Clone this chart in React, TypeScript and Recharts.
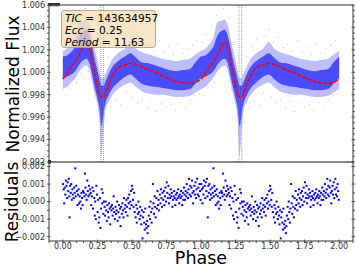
import { Area, ComposedChart, Line, ReferenceLine, Scatter, XAxis, YAxis } from "recharts";

const FONT = "DejaVu Sans, Verdana, sans-serif";
const FRAME = "#333";

// one phase cycle, repeated for 1..2 (the light curve is folded twice)
const phaseGrid = [0, 0.03, 0.06, 0.09, 0.12, 0.15, 0.17, 0.19, 0.21, 0.23, 0.25, 0.265, 0.28, 0.295, 0.31, 0.33, 0.355, 0.4, 0.45, 0.49, 0.53, 0.57, 0.62, 0.67, 0.72, 0.77, 0.82, 0.87, 0.92, 0.96, 1.0];
const modelFlux = [0.9994, 0.9999, 1.0005, 1.001, 1.0016, 1.0023, 1.0027, 1.0024, 1.0013, 1.0, 0.9987, 0.998, 0.9978, 0.9978, 0.9982, 0.9989, 0.9996, 1.0004, 1.00065, 1.0008, 1.0007, 1.0005, 1.0002, 1.0, 0.9997, 0.9994, 0.9992, 0.99905, 0.999, 0.9991, 0.9994];
const outerLow = [0.9985, 0.9987, 0.9991, 0.9995, 1.0001, 1.0005, 1.0006, 1.0003, 0.9993, 0.9981, 0.9971, 0.9958, 0.9925, 0.995, 0.9967, 0.9973, 0.9979, 0.9985, 0.9989, 0.9991, 0.9987, 0.9983, 0.9981, 0.998, 0.998, 0.9979, 0.9978, 0.9978, 0.9979, 0.9982, 0.9985];
const outerHigh = [1.0019, 1.0021, 1.0025, 1.0031, 1.0045, 1.0046, 1.0047, 1.0043, 1.0033, 1.0021, 1.0011, 1.0001, 0.9995, 0.9995, 0.9999, 1.0005, 1.0011, 1.0017, 1.0021, 1.0027, 1.0021, 1.0018, 1.0016, 1.0014, 1.0012, 1.0011, 1.001, 1.0011, 1.0012, 1.0016, 1.0019];
const coreLow = [0.9995, 0.9996, 0.9998, 1.0001, 1.0007, 1.0011, 1.0012, 1.0009, 0.9999, 0.9987, 0.9977, 0.9968, 0.9952, 0.9964, 0.9973, 0.9979, 0.9985, 0.9991, 0.9996, 0.9998, 0.9994, 0.999, 0.9988, 0.9987, 0.9986, 0.9985, 0.9984, 0.9984, 0.9985, 0.999, 0.9995];
const coreHigh = [1.0014, 1.0015, 1.0018, 1.0023, 1.0033, 1.0037, 1.0038, 1.0034, 1.0024, 1.0012, 1.0002, 0.9994, 0.9988, 0.9988, 0.9992, 0.9998, 1.0004, 1.001, 1.0014, 1.0017, 1.0013, 1.0009, 1.0008, 1.0006, 1.0004, 1.0002, 1.0001, 1.0002, 1.0003, 1.0009, 1.0014];

// faint grey raw points
const grayPts: [number, number][] = [
  [0.008, 1.0027], [0.021, 0.9979], [0.037, 1.0034], [0.052, 0.9986], [0.066, 1.0029], [0.083, 1.0043], [0.098, 0.9991],
  [0.116, 1.0051], [0.131, 0.9999], [0.148, 1.0041], [0.163, 1.0057], [0.184, 1.0001], [0.203, 1.0049], [0.221, 0.9985],
  [0.236, 1.0027], [0.249, 0.9963], [0.262, 1.0009], [0.272, 0.9946], [0.287, 0.9937], [0.302, 0.9998], [0.318, 0.9956],
  [0.329, 1.0014], [0.346, 0.9969], [0.367, 1.0023], [0.383, 0.9975], [0.402, 1.0029], [0.421, 0.9971], [0.437, 1.0024],
  [0.454, 0.9982], [0.471, 1.0033], [0.492, 1.0038], [0.507, 0.9978], [0.524, 1.0027], [0.541, 0.9973], [0.559, 1.0031],
  [0.574, 0.9976], [0.596, 1.0022], [0.613, 0.9968], [0.628, 1.0025], [0.644, 0.9974], [0.661, 1.0019], [0.679, 0.9965],
  [0.697, 1.0028], [0.712, 0.9972], [0.731, 1.0018], [0.748, 0.9969], [0.766, 1.0023], [0.783, 0.9971], [0.801, 1.0016],
  [0.817, 0.9966], [0.834, 1.0025], [0.852, 0.9973], [0.869, 1.0017], [0.886, 0.9969], [0.903, 1.0021], [0.921, 0.9975],
  [0.938, 1.0024], [0.954, 0.9979], [0.971, 1.0028], [0.988, 0.9981],
];

const residualPts: [number, number][] = [
  [0.002, 0.001], [0.006, 0.0007], [0.01, -0.0001], [0.014, 0.0008], [0.018, 0.0004], [0.022, 0.0012],
  [0.027, 0.0009], [0.031, 0.0002], [0.035, 0.0011], [0.039, 0.0006], [0.043, 0.0013], [0.047, 0.0003], [0.049, -0.0009],
  [0.053, 0.0009], [0.057, 0.0005], [0.061, 0.001], [0.065, 0.0001], [0.069, 0.0007], [0.072, 0.0004],
  [0.078, 0.0002], [0.082, 0.0008], [0.086, 0.0005], [0.09, 0.0019], [0.093, 0.0003], [0.097, 0.0009],
  [0.102, 0.0006], [0.106, -0.0002], [0.11, 0.0004], [0.114, 0.0007], [0.118, -0.0001], [0.122, 0.0003],
  [0.127, 0.0], [0.131, -0.0004], [0.135, 0.0005], [0.139, 0.0002], [0.143, -0.0002], [0.147, 0.0006],
  [0.152, 0.0005], [0.156, 0.0003], [0.16, 0.0016], [0.164, 0.0008], [0.168, 0.0004], [0.172, 0.0001],
  [0.177, 0.0012], [0.181, 0.0006], [0.185, 0.0003], [0.189, 0.0009], [0.193, 0.0004], [0.197, 0.0007],
  [0.202, 0.0005], [0.206, -0.0002], [0.21, 0.0003], [0.214, 0.0008], [0.218, -0.0004], [0.222, 0.0006],
  [0.227, 0.0002], [0.231, -0.0008], [0.235, 0.0], [0.239, -0.001], [0.243, 0.0009], [0.247, 0.0004],
  [0.252, -0.0006], [0.256, 0.0001], [0.26, -0.0012], [0.264, -0.0009], [0.268, 0.0002], [0.272, -0.0015],
  [0.277, -0.0004], [0.281, 0.0007], [0.285, -0.0001], [0.289, 0.0005], [0.293, -0.0007], [0.297, 0.0],
  [0.302, -0.0003], [0.306, -0.0008], [0.31, 0.0], [0.314, -0.0005], [0.318, -0.0011], [0.322, -0.0002],
  [0.327, -0.0006], [0.331, -0.0009], [0.335, -0.0001], [0.339, -0.0004], [0.343, -0.0013], [0.347, -0.0003],
  [0.352, -0.0005], [0.356, -0.0002], [0.36, -0.0008], [0.364, -0.0004], [0.368, 0.0003], [0.372, -0.0006],
  [0.377, -0.001], [0.381, -0.0003], [0.385, -0.0007], [0.389, -0.0005], [0.393, 0.0], [0.397, -0.0011],
  [0.402, -0.0006], [0.406, -0.0002], [0.41, -0.0009], [0.414, -0.0004], [0.418, -0.0014], [0.422, -0.0003],
  [0.427, -0.0007], [0.431, -0.0001], [0.435, -0.0005], [0.439, -0.0009], [0.443, 0.0002], [0.447, -0.0004],
  [0.452, -0.0002], [0.456, -0.0006], [0.46, 0.0001], [0.464, -0.0003], [0.468, -0.0008], [0.472, 0.0002],
  [0.477, -0.0001], [0.481, 0.0004], [0.485, -0.0004], [0.489, 0.0], [0.493, 0.0006], [0.497, -0.0002],
  [0.5, 0.0009], [0.504, 0.0007], [0.508, 0.0001], [0.512, -0.0003], [0.516, 0.0005], [0.52, -0.0006],
  [0.527, -0.0009], [0.531, -0.0002], [0.535, -0.0012], [0.539, -0.0004], [0.543, -0.0007], [0.547, 0.0],
  [0.552, -0.0006], [0.556, -0.001], [0.56, -0.0003], [0.564, -0.0008], [0.568, -0.0013], [0.572, -0.0005],
  [0.577, -0.0021], [0.581, -0.0009], [0.585, -0.0006], [0.589, -0.0012], [0.593, -0.0016], [0.597, -0.0004],
  [0.602, -0.0013], [0.606, -0.0015], [0.61, -0.0011], [0.614, -0.0018], [0.618, -0.0014], [0.622, -0.0008],
  [0.627, -0.0003], [0.631, -0.001], [0.635, 0.0], [0.639, -0.0006], [0.643, -0.0012], [0.647, -0.0004],
  [0.652, 0.001], [0.656, -0.0001], [0.66, -0.0007], [0.664, 0.0003], [0.668, -0.0003], [0.672, -0.0009],
  [0.677, 0.0002], [0.681, -0.0004], [0.685, 0.0006], [0.689, -0.0002], [0.693, 0.0001], [0.697, -0.0005],
  [0.702, 0.0004], [0.706, -0.0001], [0.71, 0.0007], [0.714, 0.0002], [0.718, -0.0003], [0.722, 0.0005],
  [0.727, 0.0001], [0.731, 0.0006], [0.735, -0.0002], [0.739, 0.0003], [0.743, 0.0008], [0.747, 0.0],
  [0.752, 0.0011], [0.756, 0.0005], [0.76, 0.0002], [0.764, 0.0009], [0.768, -0.0001], [0.772, 0.0004],
  [0.777, 0.0002], [0.781, 0.0007], [0.785, 0.0003], [0.789, 0.0005], [0.793, -0.0003], [0.797, 0.0001],
  [0.802, 0.0003], [0.806, 0.0006], [0.81, 0.0002], [0.814, -0.0002], [0.818, 0.0004], [0.822, 0.0001],
  [0.827, 0.0005], [0.831, 0.0002], [0.835, 0.0007], [0.839, 0.0003], [0.843, -0.0001], [0.847, 0.0004],
  [0.852, 0.0002], [0.856, 0.0006], [0.86, 0.0003], [0.864, -0.0002], [0.868, 0.0005], [0.872, 0.0001],
  [0.877, 0.0008], [0.881, 0.0004], [0.885, 0.0001], [0.889, 0.0006], [0.893, 0.0003], [0.897, 0.001],
  [0.902, 0.0005], [0.906, 0.0002], [0.91, 0.0007], [0.914, 0.0013], [0.918, 0.0004], [0.922, 0.0009],
  [0.927, 0.0003], [0.931, 0.0008], [0.935, 0.0012], [0.939, 0.0005], [0.943, -0.0001], [0.947, 0.0006],
  [0.952, 0.0009], [0.956, 0.0004], [0.96, 0.0011], [0.964, 0.0002], [0.968, 0.0007], [0.972, 0.0013],
  [0.977, 0.0004], [0.981, 0.0008], [0.985, 0.0003], [0.989, 0.001], [0.993, 0.0006], [0.997, 0.0001],
];

const fluxTicks = [0.992, 0.994, 0.996, 0.998, 1.0, 1.002, 1.004, 1.006];
const fluxLabels = ["0.992", "0.994", "0.996", "0.998", "1.000", "1.002", "1.004", "1.006"];
const residTicks = [-0.002, -0.001, 0, 0.001, 0.002];
const residLabels = ["\u22120.002", "\u22120.001", "0.000", "0.001", "0.002"];
const phaseTicks = [0, 0.25, 0.5, 0.75, 1.0, 1.25, 1.5, 1.75, 2.0];
const phaseLabels = ["0.00", "0.25", "0.50", "0.75", "1.00", "1.25", "1.50", "1.75", "2.00"];
const dipPhases = [0.275, 0.295, 1.275, 1.295];
const cycles = [0, 1];

const curveData = cycles.flatMap((c) =>
  phaseGrid
    .map((p, i) => ({
      phase: p + c,
      model: modelFlux[i],
      outer: [outerLow[i], outerHigh[i]],
      core: [coreLow[i], coreHigh[i]],
    }))
    .filter((_, i) => !(c === 1 && i === 0))
);
const grayData = cycles.flatMap((c) => grayPts.map(([p, f]) => ({ phase: p + c, flux: f })));
const residData = cycles.flatMap((c) => residualPts.map(([p, r]) => ({ phase: p + c, res: r })));

function minorTicks(lo: number, hi: number, step: number) {
  const out: number[] = [];
  const n = Math.round((hi - lo) / step);
  for (let i = 0; i <= n; i++) out.push(+(lo + i * step).toFixed(6));
  return out;
}

const phaseMinor = minorTicks(-0.1, 2.1, 0.05);
const fluxMinor = minorTicks(0.992, 1.006, 0.0005);
const residMinor = minorTicks(-0.002, 0.002, 0.0005);

function makeTick(side: string, majors: number[], labels?: string[]) {
  return (props: any) => {
    const { x, y, payload } = props;
    const idx = majors.findIndex((m) => Math.abs(m - payload.value) < 1e-7);
    const len = idx >= 0 ? 3.5 : 2;
    let line = null;
    let label = null;
    const txt = { fontFamily: FONT, fontSize: 8, fill: "#333" };
    if (side === "left") {
      line = <line x1={x} x2={x + len} y1={y} y2={y} stroke={FRAME} strokeWidth={0.8} />;
      if (labels && idx >= 0)
        label = (
          <text x={x - 2} y={y + 2.9} textAnchor="end" style={txt}>
            {labels[idx]}
          </text>
        );
    } else if (side === "right") {
      line = <line x1={x} x2={x - len} y1={y} y2={y} stroke={FRAME} strokeWidth={0.8} />;
    } else if (side === "top") {
      line = <line x1={x} x2={x} y1={y} y2={y + len} stroke={FRAME} strokeWidth={0.8} />;
    } else {
      line = <line x1={x} x2={x} y1={y} y2={y - len} stroke={FRAME} strokeWidth={0.8} />;
      if (labels && idx >= 0)
        label = (
          <text x={x} y={y + 6.4} textAnchor="middle" style={txt}>
            {labels[idx]}
          </text>
        );
    }
    return (
      <g>
        {line}
        {label}
      </g>
    );
  };
}

const grayDot = (p: any) => <circle cx={p.cx} cy={p.cy} r={0.55} fill="#9a9a9a" fillOpacity={0.7} />;
const blueDot = (p: any) => <rect x={p.cx - 1} y={p.cy - 1} width={2} height={2} fill="#0000ff" />;

const axisText = {
  position: "absolute" as const,
  fontFamily: FONT,
  fontSize: 17,
  lineHeight: "17px",
  whiteSpace: "nowrap" as const,
  color: "#000",
};

export default function App() {
  const xDomain = [-0.1, 2.1];
  return (
    <div style={{ position: "absolute", left: 0, top: 0, width: 356, height: 270, background: "#fff" }}>
      <div style={{ position: "absolute", left: 0, top: 0 }}>
        <ComposedChart width={356} height={170} data={curveData} margin={{ top: 4, right: 2, bottom: 8, left: 0 }}>
          <XAxis xAxisId="b" dataKey="phase" type="number" domain={xDomain} allowDataOverflow hide />
          <XAxis
            xAxisId="t"
            orientation="top"
            type="number"
            domain={xDomain}
            allowDataOverflow
            ticks={phaseMinor}
            interval={0}
            height={1}
            tickSize={0}
            tickLine={false}
            tick={makeTick("top", phaseTicks)}
            axisLine={{ stroke: FRAME }}
          />
          <YAxis
            yAxisId="l"
            type="number"
            domain={[0.992, 1.006]}
            allowDataOverflow
            ticks={fluxMinor}
            interval={0}
            width={49}
            tickSize={0}
            tickLine={false}
            tick={makeTick("left", fluxTicks, fluxLabels)}
            axisLine={{ stroke: FRAME }}
          />
          <YAxis
            yAxisId="r"
            orientation="right"
            type="number"
            domain={[0.992, 1.006]}
            allowDataOverflow
            ticks={fluxMinor}
            interval={0}
            width={1}
            tickSize={0}
            tickLine={false}
            tick={makeTick("right", fluxTicks)}
            axisLine={{ stroke: FRAME }}
          />
          <Scatter xAxisId="b" yAxisId="l" data={grayData} dataKey="flux" shape={grayDot} isAnimationActive={false} />
          <Area
            xAxisId="b"
            yAxisId="l"
            dataKey="outer"
            type="monotone"
            stroke="none"
            fill="#5c5cff"
            fillOpacity={0.4}
            isAnimationActive={false}
          />
          <Area
            xAxisId="b"
            yAxisId="l"
            dataKey="core"
            type="monotone"
            stroke="none"
            fill="#2020ff"
            fillOpacity={0.72}
            isAnimationActive={false}
          />
          {dipPhases.map((p) => (
            <ReferenceLine key={p} xAxisId="b" yAxisId="l" x={p} stroke="#8a8a8a" strokeWidth={0.8} strokeDasharray="1 1" />
          ))}
          <Line
            xAxisId="b"
            yAxisId="l"
            dataKey="model"
            type="monotone"
            stroke="#ff0000"
            strokeWidth={1.6}
            strokeDasharray="4 1.5"
            dot={false}
            isAnimationActive={false}
          />
        </ComposedChart>
      </div>
      <div style={{ position: "absolute", left: 0, top: 0 }}>
        <ComposedChart width={356} height={270} data={residData} margin={{ top: 161, right: 2, bottom: 28, left: 0 }}>
          <XAxis
            xAxisId="b"
            dataKey="phase"
            type="number"
            domain={xDomain}
            allowDataOverflow
            ticks={phaseMinor}
            interval={0}
            height={1}
            tickSize={0}
            tickLine={false}
            tick={makeTick("bottom", phaseTicks, phaseLabels)}
            axisLine={{ stroke: FRAME }}
          />
          <XAxis
            xAxisId="t"
            orientation="top"
            type="number"
            domain={xDomain}
            allowDataOverflow
            ticks={phaseMinor}
            interval={0}
            height={1}
            tickSize={0}
            tickLine={false}
            tick={makeTick("top", phaseTicks)}
            axisLine={{ stroke: "#111", strokeWidth: 1.2 }}
          />
          <YAxis
            yAxisId="l"
            type="number"
            domain={[-0.00225, 0.00226]}
            allowDataOverflow
            ticks={residMinor}
            interval={0}
            width={49}
            tickSize={0}
            tickLine={false}
            tick={makeTick("left", residTicks, residLabels)}
            axisLine={{ stroke: FRAME }}
          />
          <YAxis
            yAxisId="r"
            orientation="right"
            type="number"
            domain={[-0.00225, 0.00226]}
            allowDataOverflow
            ticks={residMinor}
            interval={0}
            width={1}
            tickSize={0}
            tickLine={false}
            tick={makeTick("right", residTicks)}
            axisLine={{ stroke: FRAME }}
          />
          <Scatter xAxisId="b" yAxisId="l" dataKey="res" shape={blueDot} isAnimationActive={false} />
        </ComposedChart>
      </div>
      <div
        style={{
          position: "absolute",
          left: 61,
          top: 10,
          width: 95,
          height: 38,
          boxSizing: "border-box",
          background: "rgba(245, 222, 179, 0.75)",
          border: "1px solid rgba(140, 120, 90, 0.55)",
          borderRadius: 4,
          padding: "1px 0 0 3px",
          fontFamily: FONT,
          fontSize: 10.6,
          lineHeight: "12px",
          color: "#000",
          whiteSpace: "nowrap",
        }}
      >
        <div>
          <i>TIC</i> = 143634957
        </div>
        <div>
          <i>Ecc</i> = 0.25
        </div>
        <div>
          <i>Period</i> = 11.63
        </div>
      </div>
      <div style={{ ...axisText, left: 13, top: 83.5, transform: "translate(-50%, -50%) rotate(-90deg)" }}>
        Normalized Flux
      </div>
      <div style={{ ...axisText, left: 12, top: 202, transform: "translate(-50%, -50%) rotate(-90deg)" }}>
        Residuals
      </div>
      <div
        style={{
          ...axisText,
          left: 201,
          top: 257.5,
          fontSize: 17.5,
          lineHeight: "13px",
          transform: "translate(-50%, -50%)",
        }}
      >
        Phase
      </div>
    </div>
  );
}
